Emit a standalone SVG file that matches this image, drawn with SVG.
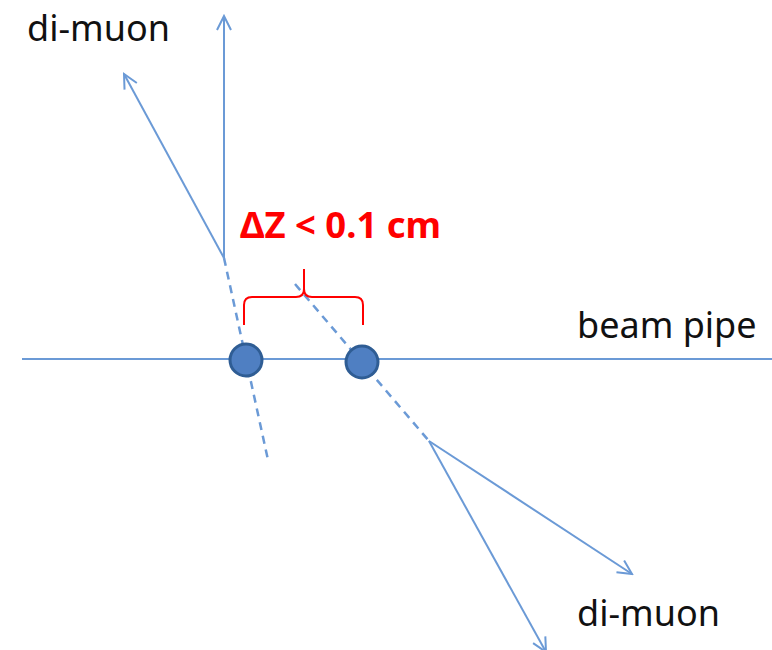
<svg xmlns="http://www.w3.org/2000/svg" width="772" height="650" viewBox="0 0 772 650">
<defs>
<marker id="arr" viewBox="0 0 20 20" refX="18" refY="10" markerWidth="20" markerHeight="20" markerUnits="userSpaceOnUse" orient="auto">
<path d="M4,3 L18,10 L4,17" fill="none" stroke="#6b9ad6" stroke-width="2"/>
</marker>
</defs>
<style>
.ln{stroke:#6b9ad6;stroke-width:2;fill:none}
.dash{stroke:#6b9ad6;stroke-width:2.5;fill:none;stroke-dasharray:8 6}
.lbl{font-family:"Noto Sans","Open Sans",sans-serif;font-size:36px;fill:#111}
.dot{fill:#4f7fc2;stroke:#2f5d94;stroke-width:3}
</style>
<rect width="772" height="650" fill="#fff"/>
<g id="connectors">
<line class="ln" x1="22" y1="359" x2="772" y2="359"/>
<line class="ln" x1="224" y1="258" x2="224" y2="16" marker-end="url(#arr)"/>
<line class="ln" x1="224" y1="258" x2="124" y2="74" marker-end="url(#arr)"/>
<line class="dash" x1="224" y1="258" x2="268" y2="460"/>
<line class="dash" x1="295" y1="284" x2="429" y2="441"/>
<line class="ln" x1="429" y1="441" x2="632" y2="574" marker-end="url(#arr)"/>
<line class="ln" x1="429" y1="441" x2="546" y2="652" marker-end="url(#arr)"/>
</g>
<g id="brace">
<path d="M244,325 L244,305 Q244,297 252,297 L296,297 Q304,297 304,289 L304,269 M304,289 Q304,297 312,297 L355,297 Q363,297 363,305 L363,325" fill="none" stroke="#ff0000" stroke-width="2"/>
</g>
<g id="vertex1"><circle class="dot" cx="246" cy="360" r="16"/></g>
<g id="vertex2"><circle class="dot" cx="362" cy="362" r="16"/></g>
<g id="labels">
<text class="lbl" x="27" y="41">di-muon</text>
<text class="lbl" x="577" y="338">beam pipe</text>
<text class="lbl" x="577" y="626">di-muon</text>
<text x="240" y="238" font-family="Noto Sans,Open Sans,sans-serif" font-weight="bold" font-size="35" fill="#ff0000" textLength="201" lengthAdjust="spacingAndGlyphs">ΔZ &lt; 0.1 cm</text>
</g>
</svg>
